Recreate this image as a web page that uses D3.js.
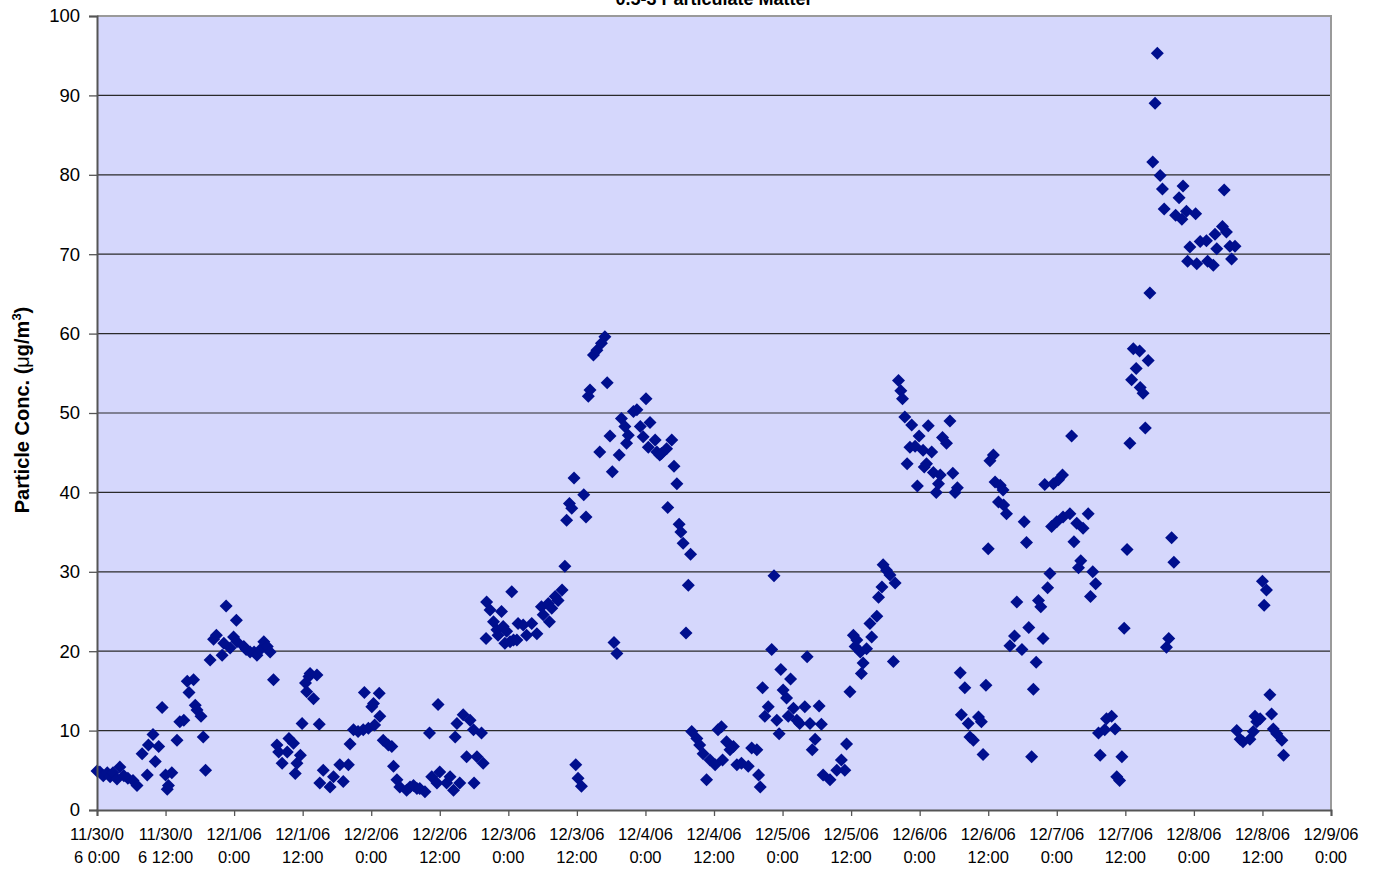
<!DOCTYPE html>
<html><head><meta charset="utf-8">
<script src="https://cdn.jsdelivr.net/npm/d3@7"></script>
<style>body{margin:0;background:#fff} text{font-family:Arial,"Liberation Sans",sans-serif;fill:#000}</style>
</head><body><svg id="c" width="1376" height="869"></svg>
<script>
// Hours since 11/30/06 0:00 and concentration (ug/m3)
const hours = [0.0,0.5,1.1,1.8,2.3,2.8,3.5,4.0,4.7,5.4,6.3,7.0,7.9,8.8,9.0,9.8,10.2,10.8,11.4,12.0,12.3,12.5,13.1,14.0,14.5,15.2,15.8,16.1,16.9,17.2,17.5,18.2,18.6,19.0,19.8,
20.4,20.9,21.9,22.2,22.6,23.3,23.9,24.4,24.5,25.7,26.1,26.8,27.5,28.0,28.6,29.2,29.8,30.3,30.9,31.5,31.8,32.4,33.3,33.6,34.4,34.7,35.0,35.6,35.9,36.5,36.7,37.1,37.3,37.9,38.5,38.9,
39.0,39.6,40.8,41.4,42.5,43.1,44.0,44.3,44.9,45.7,46.6,46.8,47.5,48.1,48.4,48.6,49.4,49.5,50.1,51.0,51.6,51.9,52.5,53.0,54.2,54.8,55.4,56.0,56.5,57.4,58.2,58.6,59.5,59.7,60.0,61.2,61.8,62.4,62.7,63.0,63.5,64.1,64.7,65.3,65.9,66.0,66.5,67.3,67.6,
68.1,68.2,68.8,69.4,70.0,70.2,70.8,71.1,71.4,71.7,72.3,72.6,72.9,73.5,73.7,74.6,75.2,76.1,77.0,77.8,78.1,79.0,79.2,79.6,80.2,80.7,81.4,81.9,82.2,82.7,83.1,83.5,83.8,84.2,84.8,85.2,85.6,86.0,86.3,86.9,87.5,88.0,88.3,88.9,89.3,89.8,90.2,90.5,91.0,91.4,91.8,92.4,92.7,93.0,93.9,94.5,95.1,95.6,96.1,96.5,96.8,97.7,98.0,98.5,98.8,99.7,99.9,100.6,101.0,101.5,101.9,102.2,102.6,103.1,103.5,103.9,
104.1,105.0,105.5,106.1,106.7,107.3,108.2,108.7,109.3,109.5,110.2,110.8,111.4,112.0,112.8,114.0,114.6,115.5,115.8,116.1,116.5,116.9,117.5,118.1,118.5,119.0,119.4,119.7,120.1,120.7,121.0,121.4,121.9,122.5,123.0,123.9,124.3,124.8,125.2,125.7,126.4,126.8,127.1,128.3,129.5,130.3,130.9,131.2,131.8,132.4,132.7,133.0,133.6,133.8,134.1,134.7,135.3,135.6,136.5,136.8,137.4,137.6,138.2,138.8,139.4,139.7,
140.3,140.7,141.0,141.4,141.8,142.3,142.6,143.2,143.6,143.9,144.6,144.8,145.2,145.5,146.1,146.4,146.9,147.3,147.6,148.0,148.7,149.3,149.8,150.2,150.6,151.1,151.3,151.9,152.5,152.8,153.4,154.3,154.8,155.1,155.6,156.0,156.3,156.9,157.2,157.8,158.1,158.6,158.7,159.2,159.8,160.6,161.0,161.9,162.3,162.7,163.1,163.6,163.9,164.4,164.8,165.2,165.6,165.9,166.4,166.8,167.1,167.4,168.0,168.3,169.0,169.1,170.3,170.6,171.0,171.5,171.8,172.2,172.6,173.5,173.9,174.3,174.8,
175.3,175.6,176.4,176.7,177.6,178.2,178.5,179.0,179.4,179.8,180.3,180.8,181.1,181.4,181.9,182.5,182.6,183.1,183.5,184.0,184.3,184.8,185.2,185.6,186.1,186.5,186.8,187.2,187.6,188.1,188.5,188.8,189.4,189.9,190.1,190.7,190.9,191.3,192.3,192.5,193.1,194.2,194.4,195.4,195.7,196.0,197.0,197.3,197.7,198.3,198.6,199.2,
199.5,200.1,200.6,201.8,202.4,202.7,203.0,203.6,204.0,204.3,204.7,205.3,205.6,205.9,206.5,207.4,207.7];
const conc = [4.9,4.8,4.3,4.7,4.2,4.7,3.9,5.4,4.3,4.0,3.7,3.1,7.1,4.4,8.2,9.5,6.1,8.0,12.9,4.4,2.6,3.1,4.7,8.8,11.1,11.3,16.2,14.8,16.4,13.2,12.6,11.8,9.2,5.0,18.9,
21.5,22.0,19.5,21.0,25.7,20.4,21.8,23.9,21.2,20.6,20.2,19.9,19.9,19.5,20.2,21.2,20.6,19.9,16.4,8.2,7.3,5.9,7.3,9.0,8.4,4.6,5.9,6.9,10.9,16.0,14.9,16.8,17.2,14.0,17.0,10.8,
3.4,5.0,2.9,4.2,5.7,3.6,5.7,8.3,10.1,9.9,10.1,14.8,10.3,13.0,13.4,10.7,14.7,11.8,8.8,8.2,8.0,5.5,3.8,2.9,2.5,2.9,3.1,2.7,2.7,2.3,9.7,4.2,3.4,13.3,4.8,3.4,4.2,2.5,9.2,10.9,3.4,12.0,6.7,11.3,10.1,3.4,6.7,9.7,5.9,
21.6,26.2,25.2,23.7,22.7,22.0,25.0,23.1,21.0,22.5,21.2,27.5,21.4,21.4,23.5,23.3,22.0,23.5,22.2,25.6,24.6,26.0,23.7,25.4,26.9,26.4,27.7,30.7,36.5,38.6,38.0,41.8,5.7,4.0,3.0,39.7,36.9,52.1,52.9,57.3,57.9,45.1,58.8,59.6,53.8,47.1,42.6,21.1,19.7,44.7,49.3,48.3,46.2,47.2,50.2,50.4,48.3,47.0,51.8,45.7,48.8,46.6,45.1,44.7,44.9,45.5,38.1,46.6,43.3,41.1,36.0,35.0,33.6,22.3,28.3,32.2,
9.9,9.0,8.2,7.1,3.8,6.3,5.7,10.1,10.5,6.3,8.6,7.6,8.0,5.7,5.9,5.5,7.8,7.6,4.4,2.9,15.4,11.8,13.0,20.2,29.5,11.3,9.6,17.7,15.1,14.1,11.8,16.5,12.8,11.3,10.9,13.0,19.3,10.9,7.6,8.9,13.1,10.8,4.4,3.8,5.0,6.3,5.0,8.3,14.9,22.0,20.6,21.4,19.9,17.2,18.5,20.3,23.5,21.8,24.4,26.8,28.1,30.9,30.2,29.6,18.7,28.6,
54.1,52.8,51.8,49.5,43.6,45.7,48.5,45.8,40.8,47.1,45.3,43.2,43.6,48.4,45.1,42.5,40.0,41.1,42.2,46.9,46.2,49.0,42.4,40.0,40.6,17.3,12.0,15.4,10.9,9.2,8.8,11.7,11.1,7.0,15.7,32.9,44.0,44.7,41.3,38.8,40.9,40.3,38.4,37.3,20.7,21.9,26.2,20.2,36.3,33.7,23.0,6.7,15.2,18.6,26.4,25.6,21.6,41.0,28.0,29.8,35.7,41.1,36.3,41.6,42.2,36.9,37.3,47.1,33.8,36.1,30.5,31.4,35.5,37.3,26.9,30.0,28.5,
9.7,6.9,10.1,11.5,11.8,10.2,4.2,3.7,6.7,22.9,32.8,46.2,54.2,58.1,55.6,57.8,53.2,52.5,48.1,56.6,65.1,81.6,89.0,95.3,79.9,78.2,75.7,20.5,21.6,34.3,31.2,74.9,77.1,74.4,78.6,75.4,69.1,70.9,75.1,68.8,71.6,71.7,69.1,68.6,72.5,70.7,73.5,78.1,72.8,71.0,69.4,71.0,
10.0,8.9,8.6,8.9,9.9,11.8,11.1,11.5,28.8,25.8,27.7,14.5,12.1,10.2,9.6,8.8,6.9];

const yTicks = [0,10,20,30,40,50,60,70,80,90,100];
const xTickHours = [0,12,24,36,48,60,72,84,96,108,120,132,144,156,168,180,192,204,216];
const xTickLine1 = ["11/30/0","11/30/0","12/1/06","12/1/06","12/2/06","12/2/06","12/3/06","12/3/06","12/4/06","12/4/06","12/5/06","12/5/06","12/6/06","12/6/06","12/7/06","12/7/06","12/8/06","12/8/06","12/9/06"];
const xTickLine2 = ["6 0:00","6 12:00","0:00","12:00","0:00","12:00","0:00","12:00","0:00","12:00","0:00","12:00","0:00","12:00","0:00","12:00","0:00","12:00","0:00"];
const chartTitle = "0.5-3 Particulate Matter";

const start = new Date(2006, 10, 30, 0, 0, 0);
const toDate = h => new Date(start.getTime() + h * 3600e3);
const points = hours.map((h, i) => ({ t: toDate(h), v: conc[i] }));

const L = 97, R = 1331, T = 16, B = 810;
const svg = d3.select("#c");
const x = d3.scaleTime().domain([toDate(0), toDate(216)]).range([L, R]);
const y = d3.scaleLinear().domain([0, 100]).range([B, T]);

svg.append("rect").attr("x", L).attr("y", T).attr("width", R - L).attr("height", B - T).attr("fill", "#D5D7FC");

// gridlines
svg.append("g").selectAll("line").data(yTicks.filter(d => d > 0 && d < 100)).join("line")
  .attr("x1", L).attr("x2", R).attr("y1", d => y(d)).attr("y2", d => y(d))
  .attr("stroke", "#2a2a2a").attr("stroke-width", 1.2);

// top & right border
svg.append("path").attr("d", `M${L},${T}H${R}V${B}`).attr("fill", "none").attr("stroke", "#9a9a9a").attr("stroke-width", 2);

// markers
const diamond = "M0,-6.5L6.5,0L0,6.5L-6.5,0Z";
svg.append("g").selectAll("path").data(points).join("path")
  .attr("d", diamond)
  .attr("transform", d => `translate(${x(d.t)},${y(d.v)})`)
  .attr("fill", "#000F8E");

// y axis
const yAxis = d3.axisLeft(y).tickValues(yTicks).tickSize(8).tickPadding(9).tickFormat(d3.format("d"));
const gy = svg.append("g").attr("transform", `translate(${L},0)`).call(yAxis);
gy.select(".domain").attr("stroke", "#555").attr("stroke-width", 2);
gy.selectAll(".tick line").attr("stroke", "#555").attr("stroke-width", 1.3);
gy.selectAll(".tick text").style("font-size", "18.5px").style("font-family", "Arial, 'Liberation Sans', sans-serif").attr("fill", "#000");

// x axis
const xAxis = d3.axisBottom(x).tickValues(xTickHours.map(toDate)).tickSize(6).tickFormat("");
const gx = svg.append("g").attr("transform", `translate(0,${B})`).call(xAxis);
gx.select(".domain").attr("stroke", "#555").attr("stroke-width", 2);
gx.selectAll(".tick line").attr("stroke", "#555").attr("stroke-width", 1.3);

const xl = svg.append("g").selectAll("text").data(xTickHours).join("text")
  .attr("text-anchor", "middle").style("font-size", "16.5px")
  .attr("transform", d => `translate(${x(toDate(d))},0)`);
xl.append("tspan").attr("x", 0).attr("y", 840).text((d, i) => xTickLine1[i]);
xl.append("tspan").attr("x", 0).attr("y", 863).text((d, i) => xTickLine2[i]);

// title
svg.append("text").attr("x", (L + R) / 2).attr("y", 5).attr("text-anchor", "middle")
  .style("font-size", "18px").style("font-weight", "bold").text(chartTitle);

// y label
const yl = svg.append("text").attr("transform", "translate(29,410) rotate(-90)").attr("text-anchor", "middle")
  .style("font-size", "20px").style("font-weight", "bold");
yl.append("tspan").text("Particle Conc. (");
yl.append("tspan").style("font-weight", "normal").text("μ");
yl.append("tspan").text("g/m");
yl.append("tspan").attr("dy", -8).style("font-size", "13px").text("3");
yl.append("tspan").attr("dy", 8).text(")");
</script></body></html>
